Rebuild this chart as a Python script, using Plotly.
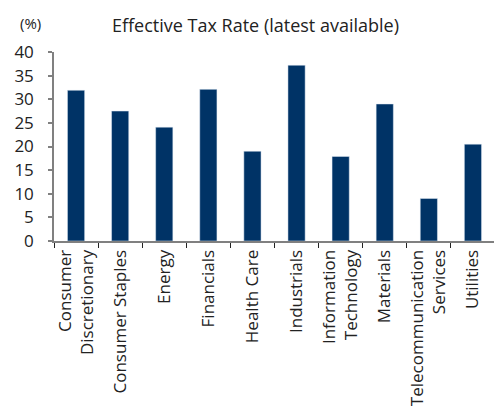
import plotly.graph_objects as go

categories = ["Consumer<br>Discretionary", "Consumer Staples", "Energy", "Financials",
              "Health Care", "Industrials", "Information<br>Technology", "Materials",
              "Telecommunication<br>Services", "Utilities"]
tax_rate = [31.9, 27.5, 24.1, 32.1, 19.0, 37.2, 17.9, 29.0, 9.0, 20.5]
y_ticks = [0, 5, 10, 15, 20, 25, 30, 35, 40]

FONT = "'Open Sans', sans-serif"

fig = go.Figure(go.Bar(
    x=categories, y=tax_rate, marker_color="#003366", width=0.39,
))

fig.update_layout(
    width=494, height=406,
    margin=dict(l=46, r=7, t=44, b=173, autoexpand=False),
    paper_bgcolor="white", plot_bgcolor="white",
    font=dict(family=FONT, size=16, color="#222"),
    showlegend=False,
    annotations=[
        dict(text="Effective Tax Rate (latest available)", x=0.456, y=1.0,
             xref="paper", yref="paper", xanchor="center", yanchor="middle",
             yshift=27, showarrow=False, font=dict(size=18, family=FONT, color="#222")),
        dict(text="(%)", x=-0.082, y=1.0, xref="paper", yref="paper", xanchor="left",
             yanchor="middle", yshift=29, showarrow=False,
             font=dict(size=15, family=FONT, color="#222")),
    ],
)

fig.update_yaxes(range=[0, 40], tickvals=y_ticks, showgrid=False, zeroline=False,
                 showline=True, linecolor="#808080", linewidth=1.5,
                 ticks="outside", ticklen=4, tickcolor="#808080", tickwidth=1.5,
                 tickfont=dict(size=17), ticklabelstandoff=11, automargin=False)
fig.update_xaxes(showgrid=False, showline=True, linecolor="#808080", linewidth=2,
                 ticks="outside", ticklen=5, tickcolor="#222", tickwidth=1,
                 tickson="boundaries", tickangle=-90, tickfont=dict(size=17),
                 automargin=False)

fig.write_html("out.html")
